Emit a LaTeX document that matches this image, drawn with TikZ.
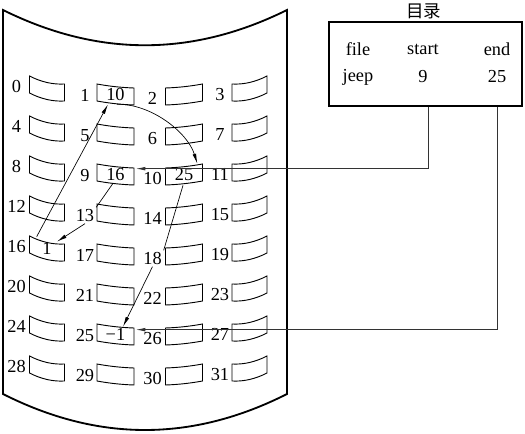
\documentclass[tikz,border=0pt]{standalone}
\usepackage{fontspec}
\setmainfont{Liberation Serif}
\newfontfamily\cjk{Noto Sans CJK SC}
\usetikzlibrary{arrows.meta,calc}
\tikzset{
  blk/.style={inner sep=0pt, minimum height=10.2pt},
  blkline/.style={line width=0.55pt},
  num/.style={inner sep=1pt, font=\fontsize{11}{13}\selectfont},
  arr/.style={-{Latex[length=6pt,width=2.2pt]}},
  link/.style={line width=0.6pt, black!80},
}
\begin{document}
\begin{tikzpicture}[x=0.6pt,y=-0.6pt]
\useasboundingbox (0,0) rectangle (525,434);
\draw[line width=1.1pt] (3,10) .. controls (98,57) and (192,57) .. (287,10)
  -- (287,394) .. controls (192,442) and (98,442) .. (3,394) -- cycle;
\foreach \r in {0,...,7} {
  \foreach \c/\cx/\cy/\t/\hw/\s/\lx/\dy in {0/47/88.5/4/17.5/2.5/16.5/-2, 1/115.5/94.5/2/18.5/0.7/85/1,
      2/184/94.5/-2/18.5/0.7/152.5/4, 3/249.5/88.5/-4/17.5/2.5/220/6} {
    \pgfmathtruncatemacro\n{4*\r+\c}
    \pgfmathsetmacro\y{\cy+40*\r}
    \pgfmathsetmacro\xa{\cx-\hw}
    \pgfmathsetmacro\xb{\cx+\hw}
    \pgfmathsetmacro\xp{\cx-\hw/3}
    \pgfmathsetmacro\xq{\cx+\hw/3}
    \pgfmathsetmacro\ya{\y-8.5-\t}
    \pgfmathsetmacro\yb{\y-8.5+\t}
    \pgfmathsetmacro\yc{\y+8.5+\t}
    \pgfmathsetmacro\yd{\y+8.5-\t}
    \pgfmathsetmacro\ta{\ya+(\yb-\ya)/3+4*\s/3}
    \pgfmathsetmacro\tb{\ya+2*(\yb-\ya)/3+4*\s/3}
    \pgfmathsetmacro\ua{\yc+(\yd-\yc)/3+4*\s/3}
    \pgfmathsetmacro\ub{\yc+2*(\yd-\yc)/3+4*\s/3}
    \draw[blkline] (\xa,\ya) .. controls (\xp,\ta) and (\xq,\tb) .. (\xb,\yb) -- (\xb,\yc)
      .. controls (\xq,\ua) and (\xp,\ub) .. (\xa,\yd) -- cycle;
    \node[blk, minimum width=1.2pt*\hw] (b\n) at (\cx,\y) {};
    \node[num] (l\n) at (\lx,\y+\dy) {\n};
  }
}
\node[num] (t1) at (b1) {10};
\node[num] (t9) at (b9) {16};
\node[num] (t10) at (b10) {25};
\node[num] (t16) at (b16) {1};
\node[num] (t25) at (b25) {−1};
\node[draw, line width=1.1pt, minimum width=115.8pt, minimum height=50.4pt] (dir) at (425.5,64) {};
\node[num, font=\cjk\fontsize{10.5}{12}\selectfont] (title) at (424,11) {目录};
\node[num, anchor=base] (hf) at (358,56) {file};
\node[num, anchor=base] (hs) at (423,55) {start};
\node[num, anchor=base] (he) at (497,56) {end};
\node[num, anchor=base] (vf) at (358,82) {jeep};
\node[num, anchor=base] (v9) at (423,83) {9};
\node[num, anchor=base] (v25) at (497,83) {25};
\draw[arr] ($(b16.north west)+(7.5,-3)$) -- ($(b1.south)+(-7.5,1)$);
\draw[arr] ($(b1.south)+(1.5,1)$) .. controls +(33,-1) and +(-10,-32) .. ($(b10.north east)+(-5.5,-2)$);
\draw ($(b9.south)+(-2.5,0)$) -- (l13.north east);
\draw[arr] (l13.south) -- ($(b16.north)+(10,2)$);
\draw ($(b10.south)+(-1,2)$) -- (l18.north east);
\draw[arr] (l18.south) -- ($(b25.north)+(7.5,1)$);
\draw[arr, link] ([xshift=3pt]v9.south |- dir.south) |- ($(b9.north east)+(1,3)$);
\draw[arr, link] (v25.south |- dir.south) |- ($(b25.north east)+(1,4)$);
\end{tikzpicture}
\end{document}
